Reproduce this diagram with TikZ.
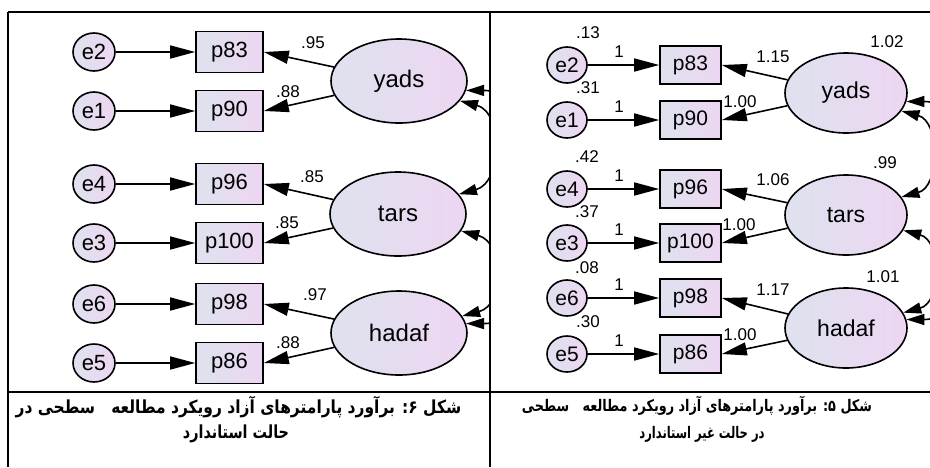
\documentclass[tikz,border=0pt]{standalone}
\usepackage{fontspec}
\setmainfont{Liberation Sans}
\newfontfamily\farsi[Script=Arabic]{DejaVu Sans}
\TeXXeTstate=1
\usetikzlibrary{arrows.meta,shapes.geometric}
\definecolor{shadeL}{RGB}{222,226,238}
\definecolor{shadeR}{RGB}{237,214,242}
\tikzset{
  err/.style={ellipse,draw=black,line width=1.6pt,left color=shadeL,right color=shadeR,
    minimum width=42pt,minimum height=38pt,inner sep=0pt,font=\fontsize{22}{22}\selectfont},
  obs/.style={rectangle,draw=black,line width=1.6pt,left color=shadeL,right color=shadeR,
    minimum width=67pt,minimum height=41pt,inner sep=0pt,font=\fontsize{22}{22}\selectfont},
  lat/.style={ellipse,draw=black,line width=1.6pt,left color=shadeL,right color=shadeR,
    minimum width=136pt,minimum height=84pt,inner sep=0pt,font=\fontsize{24}{24}\selectfont},
  errr/.style={err,minimum width=40pt,minimum height=36pt,font=\fontsize{21}{21}\selectfont},
  obsr/.style={obs,minimum width=61pt,minimum height=38pt,font=\fontsize{21}{21}\selectfont},
  latr/.style={lat,minimum width=122pt,minimum height=80pt,font=\fontsize{23}{23}\selectfont},
  reg/.style={-{Triangle[length=25pt,width=13pt]},line width=1.6pt},
  cov/.style={{Triangle[length=18pt,width=11pt]}-{Triangle[length=18pt,width=11pt]},line width=1.6pt},
  est/.style={inner sep=0pt,font=\fontsize{17}{17}\selectfont},
  tabline/.style={line width=2pt},
  figcap/.style={inner sep=0pt,font=\farsi\bfseries\fontsize{18}{18}\selectfont},
  figcapr/.style={figcap,font=\farsi\bfseries\fontsize{16}{16}\selectfont}
}
\begin{document}
\begin{tikzpicture}[x=1pt,y=1pt]
\useasboundingbox (0,0) rectangle (930,-467);
\fill [white] (0,0) rectangle (930,-467);
% standardized
\node [err] (e2) at (94,-52) {e2};
\node [err] (e1) at (94,-111) {e1};
\node [err] (e4) at (94,-184) {e4};
\node [err] (e3) at (94,-243) {e3};
\node [err] (e6) at (94,-304) {e6};
\node [err] (e5) at (94,-363) {e5};
\node [obs] (p83) at (229.5,-52) {p83};
\node [obs] (p90) at (229.5,-111) {p90};
\node [obs] (p96) at (229.5,-184) {p96};
\node [obs] (p100) at (229.5,-243) {p100};
\node [obs] (p98) at (229.5,-304) {p98};
\node [obs] (p86) at (229.5,-363) {p86};
\node [lat] (yads) at (399,-81) {yads};
\node [lat] (tars) at (398,-214) {tars};
\node [lat] (hadaf) at (399,-333) {hadaf};
\draw [reg] (e2) -- (p83);
\draw [reg] (e1) -- (p90);
\draw [reg] (e4) -- (p96);
\draw [reg] (e3) -- (p100);
\draw [reg] (e6) -- (p98);
\draw [reg] (e5) -- (p86);
\draw [reg] (yads) -- (p83.east);
\draw [reg] (yads) -- (p90.east);
\draw [reg] (tars) -- (p96.east);
\draw [reg] (tars) -- (p100.east);
\draw [reg] (hadaf) -- (p98.east);
\draw [reg] (hadaf) -- (p86.east);
\node [est] (w83) at (313,-43) {.95};
\node [est] (w90) at (288,-92) {.88};
\node [est] (w96) at (312,-177) {.85};
\node [est] (w100) at (287,-223) {.85};
\node [est] (w98) at (315,-295) {.97};
\node [est] (w86) at (288,-343) {.88};
\begin{scope}
\clip (8,-12) rectangle (490,-392);
\draw [cov] (yads.-18) to [out=-15,in=15,distance=45pt] (tars.18);
\draw [cov] (tars.-15) to [out=-15,in=15,distance=45pt] (hadaf.15);
\draw [cov] (yads.-8) to [out=0,in=0,distance=100pt] (hadaf.8);
\end{scope}
% unstandardized
\node [errr] (e2r) at (567,-65) {e2};
\node [errr] (e1r) at (567,-120) {e1};
\node [errr] (e4r) at (567,-189) {e4};
\node [errr] (e3r) at (567,-243) {e3};
\node [errr] (e6r) at (567,-298) {e6};
\node [errr] (e5r) at (567,-354) {e5};
\node [obsr] (p83r) at (690.5,-65) {p83};
\node [obsr] (p90r) at (690.5,-120) {p90};
\node [obsr] (p96r) at (690.5,-189) {p96};
\node [obsr] (p100r) at (690.5,-243) {p100};
\node [obsr] (p98r) at (690.5,-298) {p98};
\node [obsr] (p86r) at (690.5,-354) {p86};
\node [latr] (yadsr) at (846,-93) {yads};
\node [latr] (tarsr) at (846,-215) {tars};
\node [latr] (hadafr) at (846,-328) {hadaf};
\draw [reg] (e2r) -- (p83r);
\draw [reg] (e1r) -- (p90r);
\draw [reg] (e4r) -- (p96r);
\draw [reg] (e3r) -- (p100r);
\draw [reg] (e6r) -- (p98r);
\draw [reg] (e5r) -- (p86r);
\draw [reg] (yadsr) -- (p83r.east);
\draw [reg] (yadsr) -- (p90r.east);
\draw [reg] (tarsr) -- (p96r.east);
\draw [reg] (tarsr) -- (p100r.east);
\draw [reg] (hadafr) -- (p98r.east);
\draw [reg] (hadafr) -- (p86r.east);
\node [est] (v2) at (588,-33) {.13};
\node [est] (v1) at (588,-88) {.31};
\node [est] (v4) at (587,-157) {.42};
\node [est] (v3) at (587,-212) {.37};
\node [est] (v6) at (587,-268) {.08};
\node [est] (v5) at (588,-322) {.30};
\node [est] (f2) at (619,-52) {1};
\node [est] (f1) at (619,-107) {1};
\node [est] (f4) at (619,-176) {1};
\node [est] (f3) at (619,-230) {1};
\node [est] (f6) at (619,-285) {1};
\node [est] (f5) at (619,-341) {1};
\node [est] (b83) at (773,-57) {1.15};
\node [est] (b90) at (740,-102) {1.00};
\node [est] (b96) at (773,-180) {1.06};
\node [est] (b100) at (739,-225) {1.00};
\node [est] (b98) at (773,-290) {1.17};
\node [est] (b86) at (740,-335) {1.00};
\node [est] (vyads) at (887,-42) {1.02};
\node [est] (vtars) at (885,-163) {.99};
\node [est] (vhadaf) at (883,-277) {1.01};
\begin{scope}
\clip (490,-12) rectangle (930,-392);
\draw [cov] (yadsr.-18) to [out=-15,in=15,distance=40pt] (tarsr.18);
\draw [cov] (tarsr.-15) to [out=-15,in=15,distance=40pt] (hadafr.15);
\draw [cov] (yadsr.-8) to [out=0,in=0,distance=90pt] (hadafr.8);
\end{scope}
% table
\draw [tabline] (8,-12) -- (930,-12);
\draw [tabline] (8,-392) -- (930,-392);
\draw [tabline] (8,-12) -- (8,-467);
\draw [tabline] (490,-12) -- (490,-467);
\node [figcap] (cap6a) at (238.5,-407) {\scalebox{0.86}[1]{\beginR شکل ۶: برآورد پارامترهای آزاد رویکرد مطالعه\hspace{0.7em} سطحی در\endR}};
\node [figcap] (cap6b) at (236,-434) {\scalebox{0.8}[1]{\beginR حالت استاندارد\endR}};
\node [figcapr] (cap5a) at (697,-406) {\scalebox{0.8}[1]{\beginR شکل ۵: برآورد پارامترهای آزاد رویکرد مطالعه\hspace{0.7em} سطحی\endR}};
\node [figcapr] (cap5b) at (702,-434) {\scalebox{0.72}[1]{\beginR در حالت غیر استاندارد\endR}};
\end{tikzpicture}
\end{document}
